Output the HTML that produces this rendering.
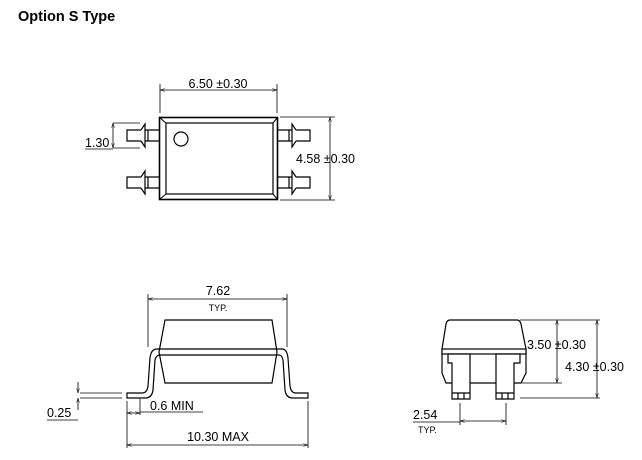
<!DOCTYPE html>
<html><head><style>body{margin:0;background:#fff}svg{display:block}</style></head>
<body>
<svg width="642" height="460" viewBox="0 0 642 460" xmlns="http://www.w3.org/2000/svg" font-family="Liberation Sans, sans-serif">
<defs>
<marker id="a" viewBox="0 0 10 10" refX="10" refY="5" markerWidth="6" markerHeight="6" orient="auto-start-reverse"><path d="M0,2 L10,5 L0,8" fill="none" stroke="#000" stroke-width="1"/></marker>
</defs>
<text x="18" y="21" font-size="14.5" font-weight="bold">Option S Type</text>
<g stroke="#000" fill="none" stroke-width="1.6">
<!-- top view -->
<rect x="159.5" y="117.5" width="118" height="82"/>
<rect x="166" y="123" width="107" height="71" stroke-width="1.2"/>
<g stroke-width="1"><line x1="159.5" y1="117.5" x2="166" y2="123"/><line x1="277.5" y1="117.5" x2="273" y2="123"/><line x1="159.5" y1="199.5" x2="166" y2="194"/><line x1="277.5" y1="199.5" x2="273" y2="194"/></g>
<circle cx="181" cy="139" r="7" stroke-width="1.2"/>
</g>
<g stroke="#000" fill="none" stroke-width="1.2">
<!-- left pins -->
<g id="pl">
<path d="M141,130 H127 V141 H141"/>
<path d="M141,130 L145,124 V147 L141,141"/>
<path d="M145,130 H159 M145,141 H159 M148,130 V141"/>
</g>
<use href="#pl" transform="translate(0,47)"/>
<use href="#pl" transform="translate(437,0) scale(-1,1)"/>
<use href="#pl" transform="translate(437,47) scale(-1,1)"/>
</g>
<g stroke="#000" fill="none" stroke-width="0.8">
<line x1="160" y1="84" x2="160" y2="113"/><line x1="277" y1="84" x2="277" y2="113"/>
<line x1="160" y1="90" x2="277" y2="90" marker-start="url(#a)" marker-end="url(#a)"/>
<line x1="280" y1="117" x2="335" y2="117"/><line x1="280" y1="200" x2="335" y2="200"/>
<line x1="330" y1="117" x2="330" y2="200" marker-start="url(#a)" marker-end="url(#a)"/>
<line x1="113" y1="123" x2="140" y2="123"/><line x1="113" y1="148" x2="140" y2="148"/>
<line x1="113" y1="123" x2="113" y2="148" marker-start="url(#a)" marker-end="url(#a)"/>
<line x1="85" y1="149" x2="113" y2="149"/>
</g>
<g font-size="12.5" fill="#000">
<text x="218" y="88" text-anchor="middle">6.50 ±0.30</text>
<text x="296" y="163">4.58 ±0.30</text>
<text x="85" y="147">1.30</text>
</g>
<!-- side view -->
<g stroke="#000" fill="none" stroke-width="1.2">
<path d="M165,320 H272 L277,352 L272,383 H165 L159,352 Z"/>
<path d="M127,393 H142 Q147,393 148,386 L150,358 Q151,349 157,349 H282 Q287,349 288,358 L290,386 Q291,393 296,393 H308 V398 H293 Q286,398 285,390 L283,360 Q282,355 279,355 H160 Q156,355 155,360 L153,390 Q152,398 145,398 H127 Z"/>
</g>
<g stroke="#000" fill="none" stroke-width="0.8">
<line x1="148" y1="294" x2="148" y2="347"/><line x1="287" y1="294" x2="287" y2="347"/>
<line x1="148" y1="299" x2="287" y2="299" marker-start="url(#a)" marker-end="url(#a)"/>
<line x1="80" y1="393" x2="122" y2="393"/><line x1="80" y1="398" x2="122" y2="398"/>
<line x1="78" y1="382" x2="78" y2="393" marker-end="url(#a)"/>
<line x1="78" y1="410" x2="78" y2="398" marker-end="url(#a)"/>
<line x1="47" y1="420" x2="78" y2="420"/>
<line x1="140" y1="399" x2="140" y2="415"/>
<line x1="127" y1="413" x2="140" y2="413" marker-start="url(#a)" marker-end="url(#a)"/>
<line x1="140" y1="412" x2="203" y2="412"/>
<line x1="127" y1="401" x2="127" y2="448"/><line x1="308" y1="401" x2="308" y2="448"/>
<line x1="127" y1="445" x2="308" y2="445" marker-start="url(#a)" marker-end="url(#a)"/>
</g>
<g font-size="12.5" fill="#000">
<text x="218" y="295" text-anchor="middle">7.62</text>
<text x="218" y="311" text-anchor="middle" font-size="9">TYP.</text>
<text x="47" y="417">0.25</text>
<text x="150" y="410">0.6  MIN</text>
<text x="218" y="441" text-anchor="middle">10.30  MAX</text>
</g>
<!-- end view -->
<g stroke="#000" fill="none" stroke-width="1.2">
<path d="M450,320 H517 Q520,320 521,324 L526,349 V373 L521,383 H446 L442,373 V349 L446,324 Q447,320 450,320 Z"/>
<rect x="442" y="349" width="84" height="5" fill="#fff"/>
<path d="M448,354 V363 H452 V399 H470 V354 Z" fill="#fff"/>
<path d="M496,354 V399 H514 V363 H520 V354 Z" fill="#fff"/>
<path d="M452,393 H470 M458,393 V399 M464,393 V399 M496,393 H514 M502,393 V399 M508,393 V399"/>
</g>
<g stroke="#000" fill="none" stroke-width="0.8">
<line x1="520" y1="320" x2="600" y2="320"/><line x1="522" y1="383" x2="562" y2="383"/><line x1="520" y1="398" x2="600" y2="398"/>
<line x1="557" y1="320" x2="557" y2="383" marker-start="url(#a)" marker-end="url(#a)"/>
<line x1="597" y1="320" x2="597" y2="398" marker-start="url(#a)" marker-end="url(#a)"/>
<line x1="460" y1="403" x2="460" y2="425"/><line x1="506" y1="403" x2="506" y2="425"/>
<line x1="460" y1="421" x2="506" y2="421" marker-start="url(#a)" marker-end="url(#a)"/>
<line x1="413" y1="422" x2="460" y2="422"/>
</g>
<g font-size="12.5" fill="#000">
<text x="527" y="349">3.50 ±0.30</text>
<text x="565" y="371">4.30 ±0.30</text>
<text x="413" y="419">2.54</text>
<text x="418" y="433" font-size="9">TYP.</text>
</g>
</svg>
</body></html>
